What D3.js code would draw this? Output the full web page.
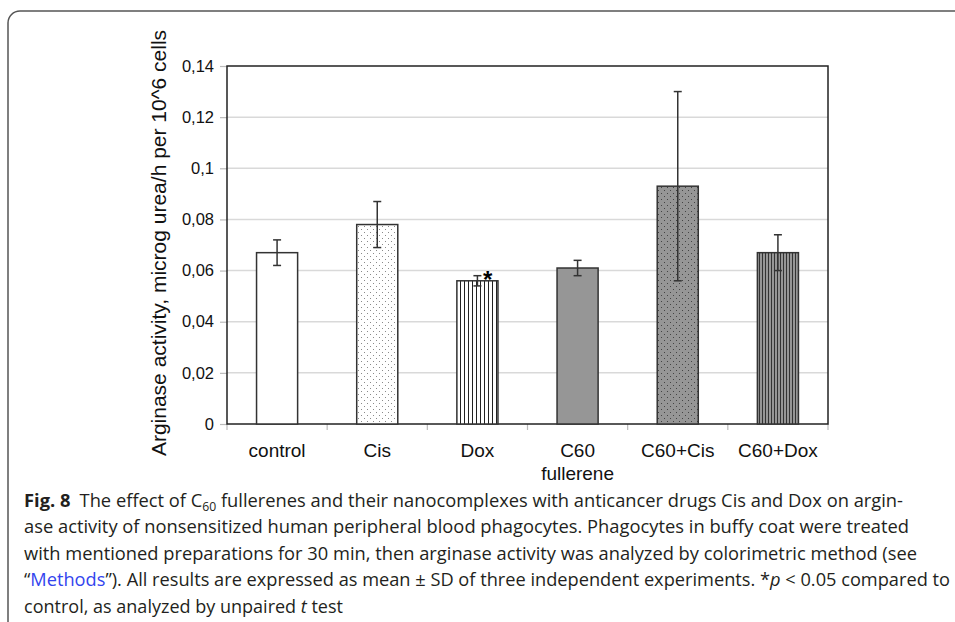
<!DOCTYPE html>
<html>
<head>
<meta charset="utf-8">
<script src="https://cdn.jsdelivr.net/npm/d3@7"></script>
<style>
  body { margin: 0; background: #fff; }
  svg { display: block; }
</style>
</head>
<body>
<script>
// data
var categories = ["control", "Cis", "Dox", "C60", "C60+Cis", "C60+Dox"];
var categoryLines = [["control"], ["Cis"], ["Dox"], ["C60", "fullerene"], ["C60+Cis"], ["C60+Dox"]];
var means = [0.067, 0.078, 0.056, 0.061, 0.093, 0.067];
var sds = [0.005, 0.009, 0.002, 0.003, 0.037, 0.007];
var significant = [false, false, true, false, false, false];
var fills = ["white", "url(#dotsLight)", "url(#stripesLight)", "#969696", "url(#dotsDark)", "url(#stripesDark)"];
var yTicks = [0, 0.02, 0.04, 0.06, 0.08, 0.1, 0.12, 0.14];

var width = 955, height = 622;
var plot = {left: 227, right: 828, top: 66, bottom: 424};
var axisFont = "'Liberation Sans', Arial, sans-serif";

var svg = d3.select("body").append("svg")
  .attr("width", width)
  .attr("height", height);

// patterns for the bar fills
var defs = svg.append("defs");

function dots(id, bg, dot) {
  var p = defs.append("pattern").attr("id", id)
    .attr("patternUnits", "userSpaceOnUse")
    .attr("width", 6).attr("height", 6);
  p.append("rect").attr("width", 6).attr("height", 6).attr("fill", bg);
  p.append("rect").attr("x", 1).attr("y", 1).attr("width", 1).attr("height", 1).attr("fill", dot);
  p.append("rect").attr("x", 4).attr("y", 4).attr("width", 1).attr("height", 1).attr("fill", dot);
}
function stripes(id, bg, line, step) {
  var p = defs.append("pattern").attr("id", id)
    .attr("patternUnits", "userSpaceOnUse")
    .attr("width", step).attr("height", 10);
  p.append("rect").attr("width", step).attr("height", 10).attr("fill", bg);
  p.append("rect").attr("x", 0).attr("width", 1).attr("height", 10).attr("fill", line);
}
dots("dotsLight", "white", "#8a8a8a");
dots("dotsDark", "#969696", "#444");
stripes("stripesLight", "white", "#222", 4);
stripes("stripesDark", "#969696", "#333", 3);

var x = d3.scaleBand()
  .domain(categories)
  .range([plot.left, plot.right])
  .paddingInner(0.59)
  .paddingOuter(0.295);

var y = d3.scaleLinear()
  .domain([0, 0.14])
  .range([plot.bottom, plot.top]);

var fmt = function (v) { return String(+v.toFixed(2)).replace(".", ","); };

// gridlines
svg.append("g")
  .selectAll("line")
  .data(yTicks.slice(1, -1))
  .enter().append("line")
  .attr("x1", plot.left).attr("x2", plot.right)
  .attr("y1", function (d) { return y(d); })
  .attr("y2", function (d) { return y(d); })
  .attr("stroke", "#d9d9d9")
  .attr("stroke-width", 1.5);

// y axis
var yAxis = svg.append("g")
  .attr("transform", "translate(" + plot.left + ",0)")
  .call(d3.axisLeft(y).tickValues(yTicks).tickFormat(fmt).tickSize(7).tickPadding(6));
yAxis.select(".domain").remove();
yAxis.selectAll(".tick line").attr("stroke", "#bbb").attr("stroke-width", 1.2);
yAxis.selectAll(".tick text")
  .attr("fill", "#111")
  .style("font-family", axisFont)
  .style("font-size", "16.5px");

// x axis ticks at the category boundaries
var xb = d3.scaleLinear().domain([0, categories.length]).range([plot.left, plot.right]);
svg.append("g")
  .selectAll("line")
  .data(d3.range(categories.length + 1))
  .enter().append("line")
  .attr("x1", function (d) { return xb(d); })
  .attr("x2", function (d) { return xb(d); })
  .attr("y1", plot.bottom).attr("y2", plot.bottom + 6)
  .attr("stroke", "#bbb")
  .attr("stroke-width", 1.2);

// plot frame
svg.append("rect")
  .attr("x", plot.left).attr("y", plot.top)
  .attr("width", plot.right - plot.left)
  .attr("height", plot.bottom - plot.top)
  .attr("fill", "none")
  .attr("stroke", "#222")
  .attr("stroke-width", 1.5);

// bars
svg.append("g")
  .selectAll("rect")
  .data(categories)
  .enter().append("rect")
  .attr("x", function (d) { return x(d); })
  .attr("y", function (d, i) { return y(means[i]); })
  .attr("width", x.bandwidth())
  .attr("height", function (d, i) { return y(0) - y(means[i]); })
  .attr("fill", function (d, i) { return fills[i]; })
  .attr("stroke", "#333")
  .attr("stroke-width", 1.5);

// error bars
var err = svg.append("g")
  .attr("stroke", "#333")
  .attr("stroke-width", 1.5)
  .selectAll("g")
  .data(categories)
  .enter().append("g");
var cx = function (d) { return x(d) + x.bandwidth() / 2; };
err.append("line")
  .attr("x1", cx).attr("x2", cx)
  .attr("y1", function (d, i) { return y(means[i] + sds[i]); })
  .attr("y2", function (d, i) { return y(means[i] - sds[i]); });
err.append("line")
  .attr("x1", function (d) { return cx(d) - 4; })
  .attr("x2", function (d) { return cx(d) + 4; })
  .attr("y1", function (d, i) { return y(means[i] + sds[i]); })
  .attr("y2", function (d, i) { return y(means[i] + sds[i]); });
err.append("line")
  .attr("x1", function (d) { return cx(d) - 4; })
  .attr("x2", function (d) { return cx(d) + 4; })
  .attr("y1", function (d, i) { return y(means[i] - sds[i]); })
  .attr("y2", function (d, i) { return y(means[i] - sds[i]); });

// significance star
svg.append("g")
  .selectAll("text")
  .data(categories.filter(function (d, i) { return significant[i]; }))
  .enter().append("text")
  .attr("x", function (d) { return cx(d) + 5.5; })
  .attr("y", function (d) { var i = categories.indexOf(d); return y(means[i] + sds[i]) + 12; })
  .attr("fill", "#000")
  .style("font-family", axisFont)
  .style("font-size", "24px")
  .style("font-weight", "bold")
  .text("*");

// category labels
var labels = svg.append("g")
  .selectAll("text")
  .data(categories)
  .enter().append("text")
  .attr("text-anchor", "middle")
  .attr("fill", "#111")
  .style("font-family", axisFont)
  .style("font-size", "19px");
labels.selectAll("tspan")
  .data(function (d, i) { return categoryLines[i].map(function (t) { return {t: t, c: d}; }); })
  .enter().append("tspan")
  .attr("x", function (d) { return cx(d.c); })
  .attr("y", function (d, j) { return 457 + j * 23; })
  .text(function (d) { return d.t; });

// y axis title
svg.append("text")
  .attr("transform", "translate(166,243) rotate(-90)")
  .attr("text-anchor", "middle")
  .attr("fill", "#111")
  .style("font-family", axisFont)
  .style("font-size", "21px")
  .text("Arginase activity, microg urea/h per 10^6 cells");

// figure frame
svg.append("path")
  .attr("d", "M8," + height + "V23A12,12 0 0 1 20,11H" + width)
  .attr("fill", "none")
  .attr("stroke", "#555")
  .attr("stroke-width", 1.5);

// caption
var cap = svg.append("g")
  .attr("fill", "#231f20")
  .style("font-family", "'Open Sans', 'Noto Sans', sans-serif")
  .style("font-size", "18px");

var l1 = cap.append("text").attr("x", 24).attr("y", 507).attr("textLength", 879).attr("lengthAdjust", "spacingAndGlyphs");
l1.append("tspan").style("font-weight", "bold").text("Fig. 8");
l1.append("tspan").attr("dx", 9).text("The effect of C");
l1.append("tspan").attr("dy", 4).style("font-size", "12px").text("60");
l1.append("tspan").attr("dy", -4).text(" fullerenes and their nanocomplexes with anticancer drugs Cis and Dox on argin-");

cap.append("text").attr("x", 24).attr("y", 533).attr("textLength", 885).attr("lengthAdjust", "spacingAndGlyphs")
  .text("ase activity of nonsensitized human peripheral blood phagocytes. Phagocytes in buffy coat were treated");
cap.append("text").attr("x", 24).attr("y", 560).attr("textLength", 893).attr("lengthAdjust", "spacingAndGlyphs")
  .text("with mentioned preparations for 30 min, then arginase activity was analyzed by colorimetric method (see");

var l4 = cap.append("text").attr("x", 24).attr("y", 586).attr("textLength", 926).attr("lengthAdjust", "spacingAndGlyphs");
l4.append("tspan").text("\u201c");
l4.append("tspan").attr("fill", "#3344ee").text("Methods");
l4.append("tspan").text("\u201d). All results are expressed as mean \u00b1 SD of three independent experiments. *");
l4.append("tspan").style("font-style", "italic").text("p");
l4.append("tspan").text(" < 0.05 compared to");

var l5 = cap.append("text").attr("x", 24).attr("y", 613).attr("textLength", 319).attr("lengthAdjust", "spacingAndGlyphs");
l5.append("tspan").text("control, as analyzed by unpaired ");
l5.append("tspan").style("font-style", "italic").text("t");
l5.append("tspan").text(" test");
</script>
</body>
</html>
